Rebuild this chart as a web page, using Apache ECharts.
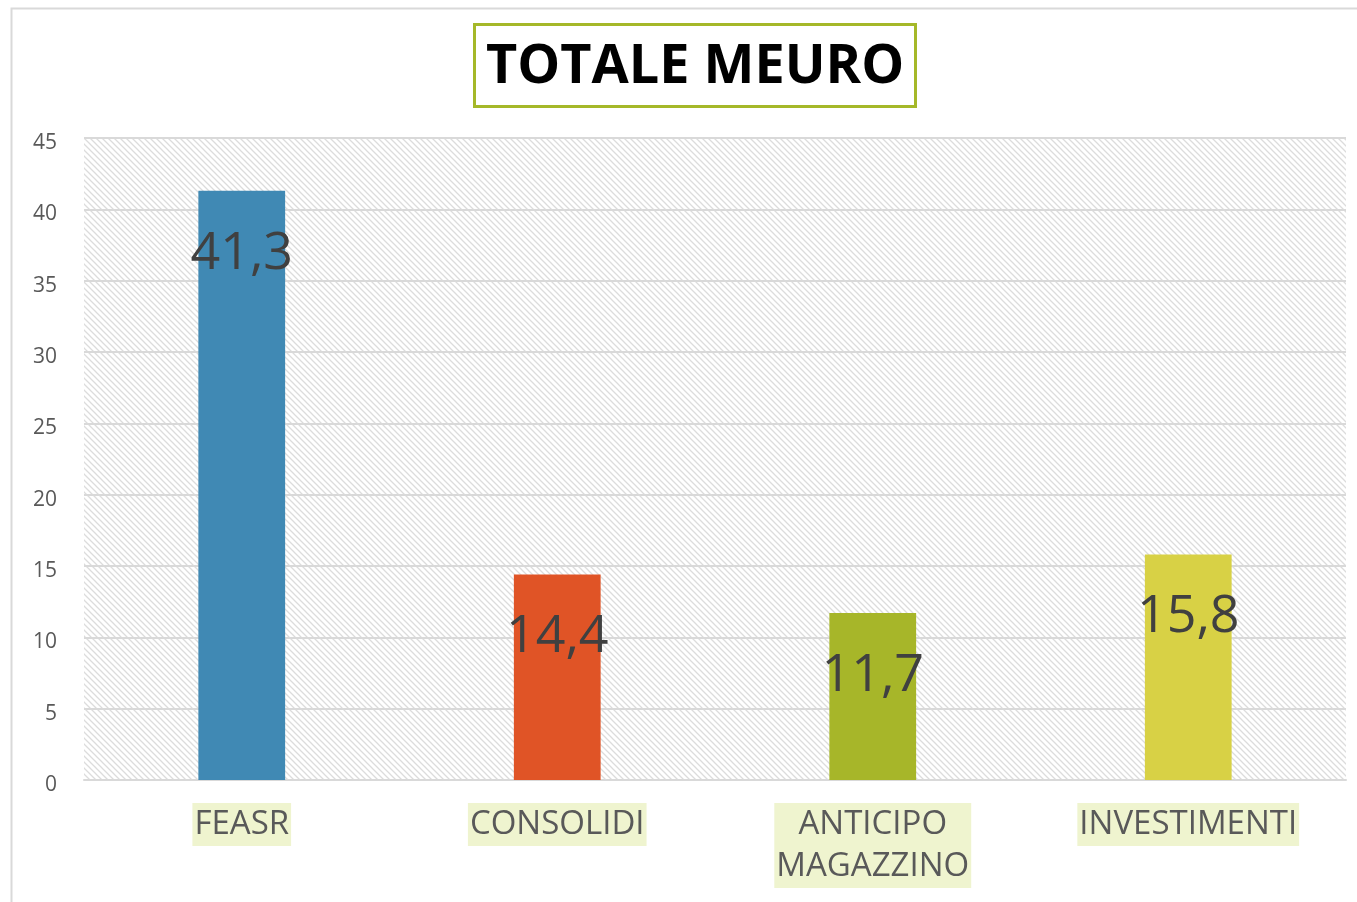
<!DOCTYPE html>
<html>
<head>
<meta charset="utf-8">
<script src="https://cdn.jsdelivr.net/npm/echarts@6/dist/echarts.min.js"></script>
<style>
  html, body { margin: 0; padding: 0; background: #fff; }
  #main { width: 1357px; height: 902px; }
</style>
</head>
<body>
<div id="main"></div>
<script>
// dati del grafico
var categorie = ['FEASR', 'CONSOLIDI', 'ANTICIPO\nMAGAZZINO', 'INVESTIMENTI'];
var valori = [41.3, 14.4, 11.7, 15.8];
var colori = ['#4089b4', '#e05426', '#a7b629', '#d8d145'];
var tickY = [0, 5, 10, 15, 20, 25, 30, 35, 40, 45];

// sfondo a righe diagonali
function tratteggio() {
    var c = document.createElement('canvas');
    c.width = 6; c.height = 6;
    var ctx = c.getContext('2d');
    ctx.fillStyle = '#ffffff';
    ctx.fillRect(0, 0, 6, 6);
    ctx.strokeStyle = '#dcdcdc';
    ctx.lineWidth = 1.3;
    ctx.beginPath();
    ctx.moveTo(-1, -1); ctx.lineTo(7, 7);
    ctx.moveTo(-4, 2); ctx.lineTo(4, 10);
    ctx.moveTo(2, -4); ctx.lineTo(10, 4);
    ctx.stroke();
    return c;
}

var myChart = echarts.init(document.getElementById('main'));
var font = '"Open Sans", sans-serif';

var option = {
    animation: false,
    title: {
        text: 'TOTALE MEURO',
        left: 474,
        top: 24,
        padding: [14, 12, 9, 12],
        borderColor: '#a5b829',
        borderWidth: 3,
        textStyle: {
            fontFamily: font,
            fontSize: 54,
            fontWeight: 'bold',
            color: '#000',
            lineHeight: 60
        }
    },
    graphic: [{
        type: 'rect',
        shape: { x: 11.5, y: 8.5, width: 1400, height: 1000 },
        style: { fill: 'none', stroke: '#d9d9d9', lineWidth: 2 },
        silent: true
    }],
    grid: {
        left: 84,
        right: 11,
        top: 138,
        bottom: 122,
        show: true,
        borderWidth: 0,
        backgroundColor: { image: tratteggio(), repeat: 'repeat' }
    },
    xAxis: {
        type: 'category',
        data: categorie,
        axisTick: { show: false },
        axisLine: { lineStyle: { color: '#d9d9d9', width: 2 } },
        axisLabel: {
            margin: 23,
            fontFamily: font,
            fontSize: 33,
            color: '#595959',
            lineHeight: 42,
            backgroundColor: '#eff4cf',
            padding: [1, 2, 0, 2]
        }
    },
    yAxis: {
        type: 'value',
        min: tickY[0],
        max: tickY[tickY.length - 1],
        interval: 5,
        axisLine: { show: false },
        axisTick: { show: false },
        splitLine: { lineStyle: { color: '#d9d9d9', width: 2 } },
        axisLabel: {
            margin: 27,
            fontFamily: font,
            fontSize: 21,
            color: '#595959',
            verticalAlign: 'top',
            lineHeight: 10
        }
    },
    series: [{
        type: 'bar',
        barWidth: '27.5%',
        data: valori.map(function (v, i) {
            return { value: v, itemStyle: { color: colori[i] } };
        }),
        label: {
            show: true,
            position: 'insideTop',
            distance: 37,
            fontFamily: font,
            fontSize: 52,
            color: '#404040',
            formatter: function (p) {
                return String(p.value).replace('.', ',');
            }
        }
    }]
};

myChart.setOption(option);
</script>
</body>
</html>
